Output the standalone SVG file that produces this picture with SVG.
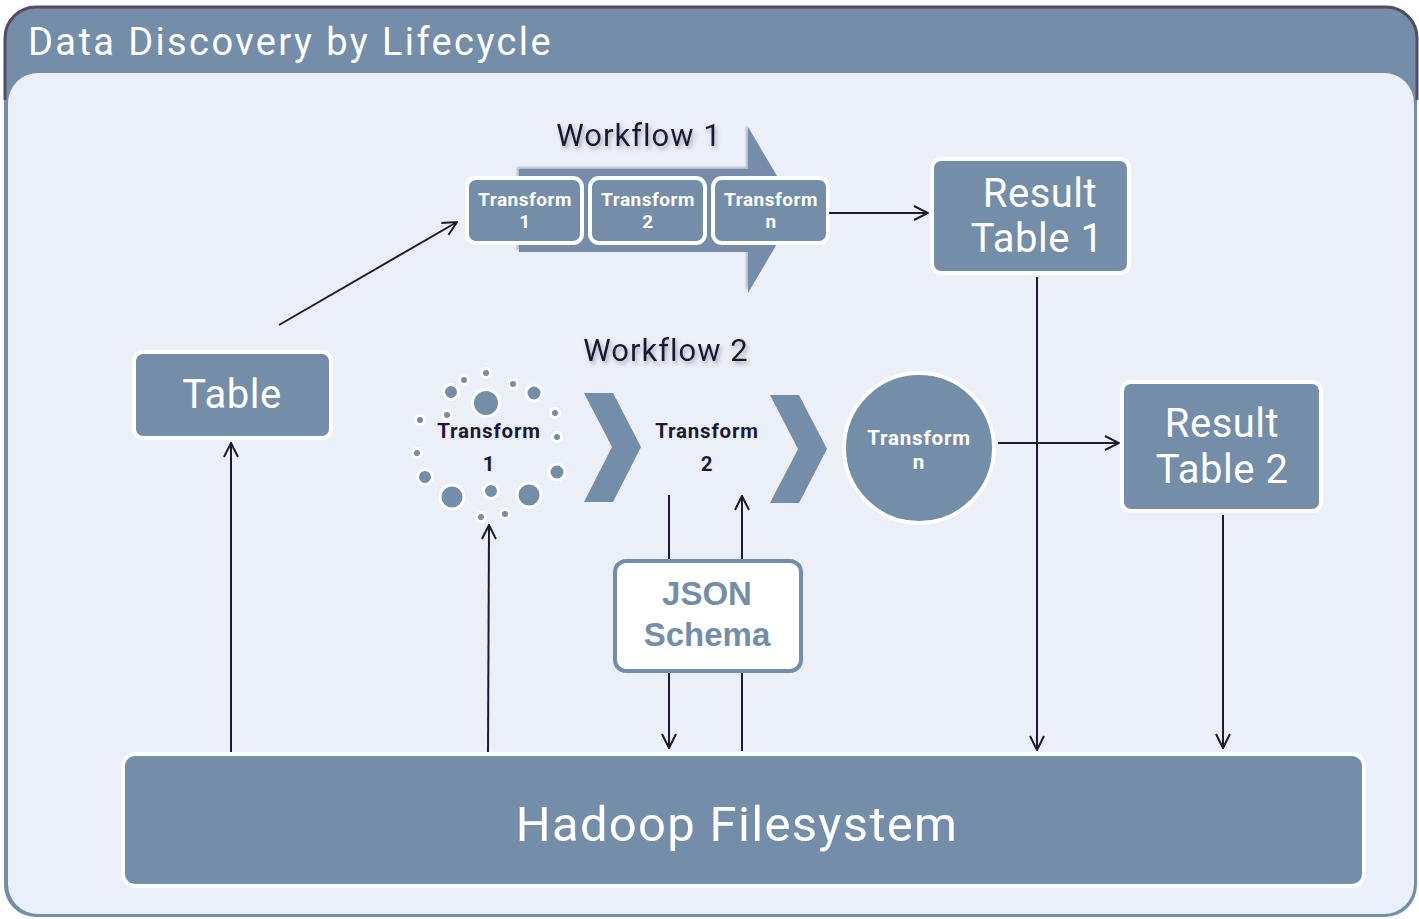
<svg xmlns="http://www.w3.org/2000/svg" width="1419" height="919" viewBox="0 0 1419 919">
<style>
.box{fill:#748da9;stroke:#ffffff;stroke-width:4}
.wt{fill:#ffffff;font-family:Roboto,"Liberation Sans",sans-serif;text-anchor:middle}
.dk{fill:#1f1835;font-family:Roboto,"Liberation Sans",sans-serif;text-anchor:middle}
.sm{font-size:19px;font-weight:bold;letter-spacing:0.5px}
.md{font-size:20.5px;font-weight:bold;letter-spacing:0.8px}
.big{font-size:40px;letter-spacing:0.5px}
.con{stroke:#1f1835;stroke-width:2;fill:none}
.dot{fill:#748da9;stroke:#ffffff;stroke-width:3}
</style>
<defs>
<marker id="ah" markerUnits="userSpaceOnUse" viewBox="0 0 16 16" markerWidth="16" markerHeight="16" refX="15" refY="8" orient="auto">
<path d="M1,1 L15,8 L1,15" fill="none" stroke="#1f1835" stroke-width="2"/>
</marker>
<filter id="tsh" x="-10%" y="-30%" width="130%" height="180%">
<feDropShadow dx="2" dy="3" stdDeviation="2" flood-color="#7a7a8a" flood-opacity="0.6"/>
</filter>
<filter id="ash" x="-10%" y="-10%" width="130%" height="130%">
<feDropShadow dx="-2" dy="-2" stdDeviation="1" flood-color="#a8a8bc" flood-opacity="0.8"/>
</filter>
</defs>

<g id="frame">
<rect x="4" y="6" width="1413" height="911" rx="32" fill="#748da9"/>
<path d="M5,100 V38 A31,31 0 0 1 36,7 H1386 A31,31 0 0 1 1417,38 V100" fill="none" stroke="#574a62" stroke-width="3"/>
<rect x="8" y="73" width="1406" height="841" rx="30" fill="#ebf0f8"/>
<text x="28" y="55" fill="#ffffff" font-family="Roboto,'Liberation Sans',sans-serif" font-size="38" letter-spacing="2.4">Data Discovery by Lifecycle</text>
</g>

<g id="workflow1">
<polygon points="519,169 748,169 748,127 797,210 748,293 748,252 519,252" fill="#748da9" filter="url(#ash)"/>
<text x="639" y="146" class="dk" font-size="31" letter-spacing="1" filter="url(#tsh)">Workflow 1</text>
</g>

<g id="transform1a">
<rect x="467" y="178" width="115" height="65" rx="9" class="box"/>
<text x="525" y="206" class="wt sm">Transform</text>
<text x="525" y="228" class="wt sm">1</text>
</g>
<g id="transform2a">
<rect x="590" y="178" width="115" height="65" rx="9" class="box"/>
<text x="648" y="206" class="wt sm">Transform</text>
<text x="648" y="228" class="wt sm">2</text>
</g>
<g id="transformna">
<rect x="713" y="178" width="115" height="65" rx="9" class="box"/>
<text x="771" y="206" class="wt sm">Transform</text>
<text x="771" y="228" class="wt sm">n</text>
</g>

<g id="result1">
<rect x="932" y="159" width="197" height="114" rx="9" class="box"/>
<text x="1040" y="207" class="wt big">Result</text>
<text x="1037" y="252" class="wt big">Table 1</text>
</g>

<g id="table">
<rect x="134" y="352" width="197" height="86" rx="9" class="box"/>
<text x="232" y="408" class="wt big">Table</text>
</g>

<g id="workflow2">
<text x="666" y="361" class="dk" font-size="31" letter-spacing="1" filter="url(#tsh)">Workflow 2</text>
<polygon points="584,393 613,393 641,447 613,502 584,502 612,447" fill="#748da9"/>
<polygon points="770,395 799,395 827,449 799,503 770,503 798,449" fill="#748da9"/>
</g>

<g id="transform1b">
<circle cx="486" cy="373" r="4.5" class="dot"/>
<circle cx="464" cy="380" r="4.5" class="dot"/>
<circle cx="451" cy="392" r="7.5" class="dot"/>
<circle cx="486" cy="403" r="13.5" class="dot"/>
<circle cx="513" cy="384" r="4.5" class="dot"/>
<circle cx="534" cy="393" r="8" class="dot"/>
<circle cx="555" cy="413" r="4.5" class="dot"/>
<circle cx="447" cy="415" r="4.5" class="dot"/>
<circle cx="420" cy="420" r="4.5" class="dot"/>
<circle cx="557" cy="437" r="4.5" class="dot"/>
<circle cx="417" cy="453" r="4.5" class="dot"/>
<circle cx="425" cy="477" r="7.5" class="dot"/>
<circle cx="557" cy="472" r="8" class="dot"/>
<circle cx="452" cy="497" r="12" class="dot"/>
<circle cx="491" cy="491" r="7.5" class="dot"/>
<circle cx="529" cy="495" r="12" class="dot"/>
<circle cx="481" cy="517" r="4.5" class="dot"/>
<circle cx="505" cy="514" r="4.5" class="dot"/>
<text x="489" y="438" class="dk md">Transform</text>
<text x="489" y="471" class="dk md">1</text>
</g>

<g id="transform2b">
<text x="707" y="438" class="dk md">Transform</text>
<text x="707" y="471" class="dk md">2</text>
</g>

<g id="transformnb">
<circle cx="919" cy="448" r="75" class="box"/>
<text x="919" y="445" class="wt md">Transform</text>
<text x="919" y="469" class="wt md">n</text>
</g>

<g id="result2">
<rect x="1122" y="382" width="199" height="129" rx="9" class="box"/>
<text x="1222" y="437" class="wt big">Result</text>
<text x="1222" y="483" class="wt big">Table 2</text>
</g>

<g id="json">
<rect x="615" y="561" width="186" height="110" rx="11" fill="#ffffff" stroke="#748da9" stroke-width="4"/>
<text x="707" y="605" fill="#748da9" font-family="'Liberation Sans',Arial,sans-serif" font-weight="bold" font-size="33" text-anchor="middle">JSON</text>
<text x="707" y="646" fill="#748da9" font-family="'Liberation Sans',Arial,sans-serif" font-weight="bold" font-size="33" text-anchor="middle">Schema</text>
</g>

<g id="hadoop">
<rect x="123" y="754" width="1241" height="132" rx="12" class="box"/>
<text x="737" y="841" class="wt" font-size="49" letter-spacing="1.3">Hadoop Filesystem</text>
</g>

<g id="connectors">
<line x1="231" y1="752" x2="231" y2="443" class="con" marker-end="url(#ah)"/>
<line x1="279" y1="325" x2="457" y2="222" class="con" marker-end="url(#ah)"/>
<line x1="829" y1="213" x2="928" y2="213" class="con" marker-end="url(#ah)"/>
<line x1="1037" y1="277" x2="1037" y2="750" class="con" marker-end="url(#ah)"/>
<line x1="998" y1="443" x2="1119" y2="443" class="con" marker-end="url(#ah)"/>
<line x1="1223" y1="515" x2="1223" y2="748" class="con" marker-end="url(#ah)"/>
<line x1="488" y1="752" x2="489" y2="525" class="con" marker-end="url(#ah)"/>
<line x1="669" y1="495" x2="669" y2="559" class="con"/>
<line x1="669" y1="673" x2="669" y2="748" class="con" marker-end="url(#ah)"/>
<line x1="742" y1="751" x2="742" y2="673" class="con"/>
<line x1="742" y1="559" x2="742" y2="496" class="con" marker-end="url(#ah)"/>
</g>
</svg>
